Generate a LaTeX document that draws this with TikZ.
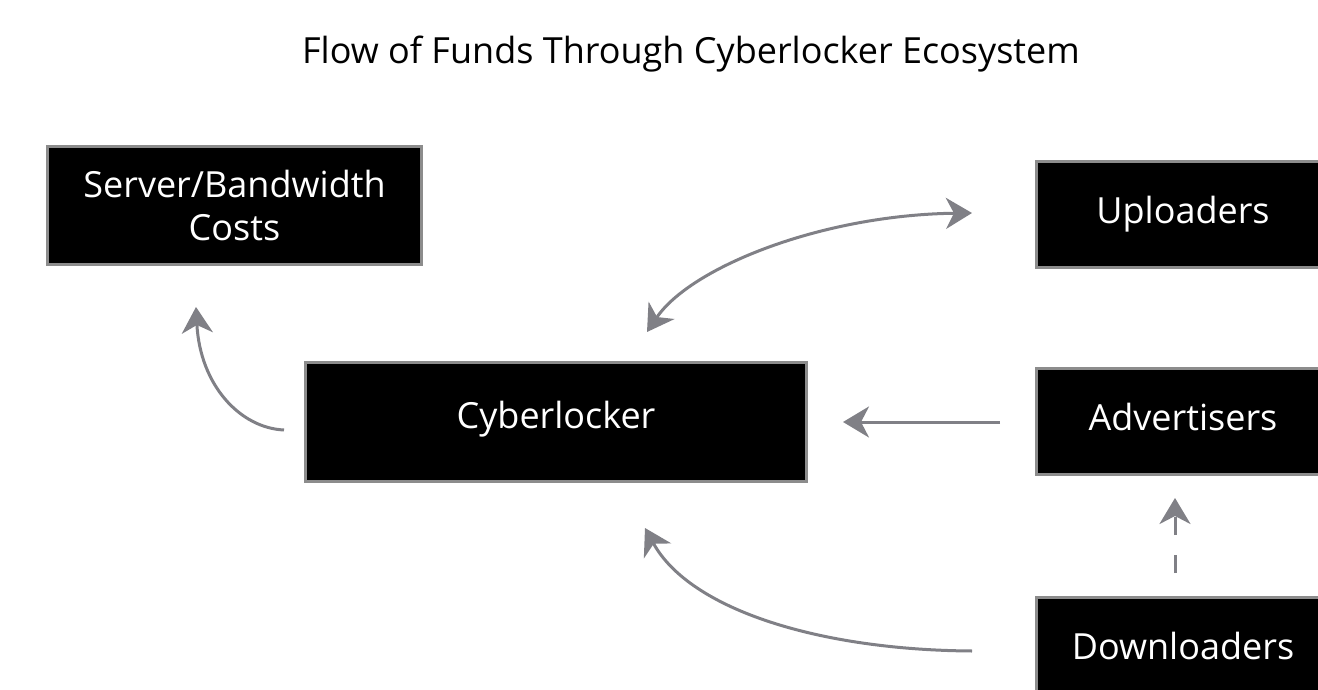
\documentclass[tikz,border=0pt]{standalone}
\usepackage{fontspec}
\setmainfont{Open Sans}
\usetikzlibrary{arrows.meta}
\definecolor{arrowgray}{RGB}{128,128,134}
\definecolor{boxgray}{RGB}{140,140,140}
\tikzset{
  box/.style={draw=boxgray, line width=3pt, fill=black, text=white, inner sep=0pt,
    font=\fontsize{36}{43}\selectfont, align=center},
  onebox/.style={box, text height=25.5pt, text depth=7pt},
  flow/.style={draw=arrowgray, line width=3pt,
    -{Stealth[length=26pt,width=31pt,inset=8pt]}},
  twoflow/.style={draw=arrowgray, line width=3pt,
    {Stealth[length=26pt,width=31pt,inset=8pt]}-{Stealth[length=26pt,width=31pt,inset=8pt]}},
  titletext/.style={font=\fontsize{36}{42}\selectfont, text=black, inner sep=0pt}
}
\begin{document}
\begin{tikzpicture}[x=1pt,y=-1pt]
\useasboundingbox (0,0) rectangle (1318,690);
\clip (0,0) rectangle (1318,690);
\fill[white] (0,0) rectangle (1318,690);

\node[titletext, anchor=base] (title) at (691,64) {Flow of Funds Through Cyberlocker Ecosystem};

\node[box, minimum width=374pt, minimum height=118pt] (server) at (234.5,205.5) {Server/Bandwidth\\Costs};
\node[onebox, text depth=13pt, minimum width=501pt, minimum height=119pt] (cyber) at (556,422) {Cyberlocker};
\node[onebox, minimum width=293pt, minimum height=106pt] (up) at (1183,214.5) {Uploaders};
\node[onebox, minimum width=293pt, minimum height=106pt] (adv) at (1183,421.5) {Advertisers};
\node[onebox, minimum width=293pt, minimum height=106pt] (down) at (1183,650.5) {Downloaders};

% connector end points
\coordinate (c1s) at (284,430);
\coordinate (c1e) at (196,307);
\coordinate (c2a) at (647,332);
\coordinate (c2b) at (972,213);
\coordinate (c3s) at (1000,422);
\coordinate (c3e) at (843,422);
\coordinate (c4s) at (972,651);
\coordinate (c4e) at (645,528);
\coordinate (c5s) at (1175,573);
\coordinate (c5e) at (1175,498);

\draw[flow] (c1s) .. controls (240,428) and (200,385) .. (c1e);
\draw[twoflow] (c2a) .. controls (690,268) and (820,215) .. (c2b);
\draw[flow] (c3s) -- (c3e);
\draw[flow] (c4s) .. controls (820,650) and (690,610) .. (c4e);
\draw[flow, dash pattern=on 18pt off 20pt] (c5s) -- (c5e);
\end{tikzpicture}
\end{document}
